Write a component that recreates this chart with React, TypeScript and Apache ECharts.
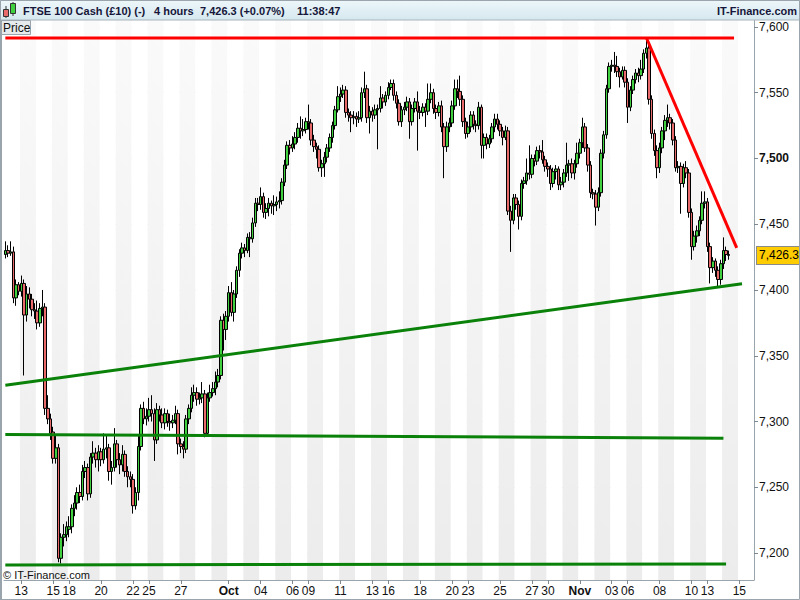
import React, { useEffect, useRef } from 'react';
import * as echarts from 'echarts';

// ---- DATA ----
const tradingDays = ['09-12','09-13','09-14','09-15','09-18','09-19','09-20','09-21','09-22','09-25','09-26','09-27','09-28','09-29',
  '10-02','10-03','10-04','10-05','10-06','10-09','10-10','10-11','10-12','10-13','10-16','10-17','10-18','10-19','10-20','10-23','10-24','10-25','10-26','10-27','10-30','10-31',
  '11-01','11-02','11-03','11-06','11-07','11-08','11-09','11-10','11-13','11-14','11-15'];
const barHours = ['00', '04', '08', '12', '16', '20'];
const labelledDays = ['09-13','09-15','09-18','09-20','09-22','09-25','09-27','10-02','10-04','10-06','10-09','10-11','10-13','10-16','10-18','10-20','10-23','10-25','10-27','10-30','11-01','11-03','11-06','11-08','11-10','11-13','11-15'];
const monthLabels: Record<string, string> = { '10-02': 'Oct', '11-01': 'Nov' };

// [open, close, low, high] per 4-hour bar
const candles: number[][] = [
  [7427,7430,7424,7437],[7430,7428,7425,7434],[7428,7429,7426,7437],[7429,7394,7390,7433],[7394,7404,7388,7408],[7404,7399,7396,7406],
  [7399,7405,7395,7411],[7405,7381,7335,7408],[7381,7397,7376,7403],[7397,7393,7386,7402],[7393,7385,7380,7397],[7385,7384,7378,7390],
  [7384,7375,7370,7392],[7375,7386,7372,7390],[7386,7387,7380,7400],[7387,7310,7305,7390],[7310,7302,7298,7320],[7302,7291,7286,7306],
  [7292,7272,7268,7296],[7272,7280,7268,7290],[7280,7196,7193,7283],[7196,7212,7192,7215],[7212,7214,7205,7222],[7214,7220,7209,7224],
  [7218,7220,7212,7228],[7220,7234,7215,7237],[7234,7238,7228,7244],[7238,7246,7233,7250],[7246,7243,7238,7252],[7243,7262,7240,7267],
  [7262,7265,7257,7270],[7265,7245,7240,7268],[7245,7273,7242,7276],[7273,7276,7268,7285],[7276,7271,7265,7280],[7271,7277,7262,7282],
  [7277,7271,7266,7280],[7271,7279,7268,7291],[7279,7280,7272,7290],[7280,7262,7255,7283],[7262,7265,7252,7270],[7265,7283,7262,7295],
  [7283,7271,7265,7286],[7271,7267,7260,7276],[7267,7275,7262,7282],[7275,7262,7258,7278],[7262,7258,7250,7266],[7258,7256,7250,7262],
  [7256,7236,7230,7260],[7236,7246,7233,7250],[7246,7281,7240,7290],[7281,7310,7278,7313],[7310,7302,7298,7315],[7302,7304,7297,7310],
  [7304,7309,7300,7318],[7309,7306,7300,7320],[7306,7286,7270,7310],[7286,7309,7283,7314],[7309,7305,7300,7312],[7305,7299,7295,7310],
  [7299,7306,7294,7310],[7306,7300,7296,7309],[7300,7299,7293,7306],[7299,7301,7295,7305],[7301,7306,7298,7312],[7306,7283,7275,7309],
  [7283,7281,7276,7287],[7281,7279,7272,7285],[7279,7302,7276,7305],[7302,7310,7298,7313],[7310,7320,7307,7326],[7320,7322,7315,7328],
  [7322,7317,7312,7326],[7317,7318,7313,7322],[7318,7321,7314,7330],[7321,7291,7288,7324],[7291,7318,7289,7322],[7318,7322,7315,7328],
  [7322,7325,7319,7330],[7325,7330,7320,7338],[7330,7335,7326,7340],[7335,7377,7332,7380],[7377,7370,7354,7382],[7370,7380,7362,7384],
  [7380,7398,7376,7403],[7398,7383,7380,7406],[7383,7397,7376,7400],[7397,7415,7394,7418],[7415,7428,7410,7431],[7428,7432,7424,7436],
  [7432,7430,7425,7435],[7430,7440,7428,7443],[7440,7439,7425,7444],[7439,7451,7436,7455],[7451,7466,7448,7470],[7466,7465,7460,7470],
  [7465,7471,7461,7478],[7471,7459,7455,7474],[7459,7462,7454,7466],[7462,7466,7456,7470],[7466,7464,7458,7468],[7464,7465,7457,7472],
  [7465,7467,7460,7471],[7467,7468,7462,7475],[7468,7482,7465,7485],[7482,7495,7479,7499],[7495,7510,7492,7513],[7510,7508,7503,7514],
  [7508,7511,7505,7517],[7511,7516,7507,7520],[7516,7523,7512,7527],[7523,7521,7515,7532],[7521,7522,7517,7530],[7522,7528,7519,7531],
  [7528,7527,7522,7541],[7527,7514,7510,7530],[7514,7509,7505,7518],[7509,7507,7500,7512],[7507,7493,7490,7510],[7493,7496,7486,7499],
  [7496,7501,7486,7505],[7501,7508,7497,7511],[7508,7516,7505,7519],[7516,7525,7512,7528],[7525,7537,7522,7540],[7537,7547,7535,7555],
  [7547,7549,7543,7554],[7549,7552,7546,7556],[7552,7535,7531,7555],[7535,7533,7528,7538],[7533,7531,7520,7536],[7531,7532,7526,7536],
  [7532,7530,7524,7535],[7530,7531,7527,7536],[7531,7550,7528,7554],[7550,7553,7546,7566],[7553,7531,7527,7556],[7531,7536,7519,7540],
  [7536,7533,7528,7539],[7533,7537,7530,7541],[7537,7538,7507,7541],[7538,7546,7535,7555],[7546,7543,7538,7549],[7543,7548,7540,7551],
  [7548,7554,7545,7558],[7554,7557,7552,7560],[7557,7548,7544,7560],[7548,7542,7538,7551],[7542,7528,7525,7545],[7528,7537,7524,7540],
  [7537,7539,7533,7543],[7539,7543,7536,7547],[7543,7528,7515,7546],[7528,7538,7525,7541],[7538,7543,7535,7546],[7543,7536,7506,7551],
  [7536,7535,7530,7540],[7535,7539,7532,7542],[7539,7536,7524,7542],[7536,7545,7533,7557],[7545,7550,7542,7557],[7550,7538,7534,7553],
  [7538,7535,7530,7541],[7535,7540,7532,7543],[7540,7524,7520,7544],[7524,7509,7485,7527],[7509,7524,7505,7528],[7524,7527,7520,7531],
  [7527,7540,7524,7544],[7540,7553,7537,7560],[7553,7551,7546,7560],[7551,7545,7540,7563],[7545,7528,7524,7548],[7528,7519,7515,7531],
  [7519,7524,7516,7528],[7524,7533,7520,7536],[7533,7526,7522,7536],[7526,7525,7520,7529],[7525,7539,7522,7543],[7539,7510,7500,7541],
  [7510,7516,7500,7519],[7516,7511,7507,7519],[7511,7515,7508,7518],[7515,7524,7512,7527],[7524,7530,7520,7534],[7530,7526,7522,7534],
  [7526,7521,7517,7529],[7521,7516,7510,7524],[7516,7521,7514,7525],[7521,7460,7457,7524],[7460,7453,7429,7464],[7453,7470,7450,7473],
  [7470,7465,7461,7473],[7465,7456,7446,7468],[7456,7481,7453,7484],[7481,7483,7477,7486],[7483,7489,7480,7500],[7489,7488,7484,7510],
  [7488,7500,7485,7503],[7500,7498,7494,7503],[7498,7506,7495,7509],[7506,7505,7500,7510],[7505,7499,7496,7514],[7499,7494,7490,7502],
  [7494,7492,7486,7497],[7492,7481,7476,7495],[7481,7490,7478,7493],[7490,7492,7484,7495],[7492,7480,7476,7494],[7480,7482,7476,7486],
  [7482,7489,7478,7492],[7489,7495,7486,7512],[7495,7496,7483,7499],[7496,7489,7485,7500],[7489,7496,7484,7499],[7496,7504,7493,7512],
  [7504,7512,7500,7515],[7512,7524,7508,7531],[7524,7508,7505,7527],[7508,7495,7490,7511],[7495,7474,7470,7498],[7474,7473,7469,7477],
  [7473,7463,7449,7476],[7463,7474,7460,7478],[7474,7504,7471,7507],[7504,7518,7500,7521],[7518,7553,7515,7556],[7553,7570,7550,7573],
  [7570,7571,7566,7575],[7571,7570,7565,7581],[7570,7566,7562,7578],[7566,7562,7554,7569],[7562,7567,7560,7570],[7567,7558,7554,7570],
  [7558,7539,7527,7561],[7539,7552,7536,7555],[7552,7560,7549,7563],[7560,7565,7557,7568],[7565,7563,7558,7569],[7563,7568,7560,7575],
  [7568,7580,7565,7583],[7580,7584,7576,7591],[7584,7545,7541,7587],[7545,7519,7515,7548],[7519,7506,7502,7522],[7506,7493,7485,7510],
  [7493,7508,7489,7512],[7508,7521,7504,7524],[7521,7529,7514,7533],[7529,7531,7524,7541],[7531,7527,7522,7534],[7527,7514,7510,7530],
  [7514,7493,7490,7517],[7493,7494,7489,7498],[7494,7481,7458,7497],[7481,7493,7478,7496],[7493,7489,7485,7498],[7489,7459,7455,7492],
  [7459,7433,7423,7462],[7433,7441,7430,7445],[7441,7445,7436,7449],[7445,7453,7441,7456],[7453,7466,7450,7475],[7466,7467,7462,7475],
  [7467,7433,7429,7470],[7433,7417,7405,7436],[7417,7422,7413,7425],[7422,7415,7410,7424],[7415,7408,7403,7418],[7408,7420,7404,7423],
  [7420,7430,7416,7440],[7430,7427,7422,7433],[7427,7426.3,7423,7430]
];

// trend lines: [bar index, price]
const resistanceTop = [[0, 7591.6], [274, 7591.6]];
const resistanceFall = [[241, 7592], [275, 7432]];
const supportRising = [[0, 7327.6], [277, 7404.7]];
const supportMid = [[0, 7290.2], [270, 7287.3]];
const supportLow = [[0, 7191], [271, 7191.7]];

const lastPrice = 7426.3;
const headerTitle = 'FTSE 100 Cash (£10) (-)';
const headerPeriod = '4 hours';
const headerQuote = '7,426.3 (+0.07%)';
const headerTime = '11:38:47';
const brand = 'IT-Finance.com';

const FONT = '"Liberation Sans", Arial, sans-serif';

export default function App() {
  const ref = useRef<HTMLDivElement>(null);
  useEffect(() => {
    if (!ref.current) return;
    const chart = echarts.init(ref.current, undefined, { renderer: 'svg' });
    const categories: string[] = [];
    tradingDays.forEach((d) => barHours.forEach((h) => categories.push(d + ' ' + h)));
    const labelled = new Set(labelledDays);
    const isLabelled = (index: number, value: string) => index % 6 === 0 && labelled.has(String(value).slice(0, 5));

    const green = '#0a820a';
    const lineSeries = (data: number[][], color: string) => ({
      type: 'line',
      data,
      symbol: 'none',
      silent: true,
      z: 5,
      lineStyle: { color, width: 3 },
    });
    const headFont = 'bold 11px ' + FONT;

    chart.setOption({
      animation: false,
      textStyle: { fontFamily: FONT },
      grid: { left: 4, right: 46, top: 20, bottom: 20, containLabel: false },
      xAxis: {
        type: 'category',
        data: categories,
        boundaryGap: true,
        axisLine: { show: true, lineStyle: { color: '#9aa4ad', width: 1 } },
        axisTick: { show: true, interval: isLabelled, alignWithLabel: true, length: 4, lineStyle: { color: '#7d8890' } },
        axisLabel: {
          interval: isLabelled,
          color: '#111',
          fontSize: 12,
          fontFamily: FONT,
          margin: 5,
          formatter: (v: string) => {
            const d = v.slice(0, 5);
            if (monthLabels[d]) return '{m|' + monthLabels[d] + '}';
            return d.slice(3);
          },
          rich: { m: { fontWeight: 'bold', fontSize: 12, fontFamily: FONT, color: '#111' } },
        },
        splitLine: { show: false },
        splitArea: {
          show: true,
          interval: (index: number) => index % 6 === 0,
          areaStyle: {
            color: [
              '#ffffff',
              new echarts.graphic.LinearGradient(0, 0, 0, 1, [
                { offset: 0, color: '#fafafa' },
                { offset: 1, color: '#ececec' },
              ]),
            ],
          },
        },
      },
      yAxis: {
        type: 'value',
        position: 'right',
        min: 7179.5,
        max: 7605.3,
        splitNumber: 8,
        scale: true,
        axisLine: { show: true, lineStyle: { color: '#9aa4ad' } },
        axisTick: { show: true, length: 4, lineStyle: { color: '#7d8890' } },
        axisLabel: {
          showMinLabel: false,
          showMaxLabel: false,
          margin: 5,
          color: '#111',
          fontSize: 12,
          fontFamily: FONT,
          formatter: (v: number) => {
            if (Math.abs(v % 50) > 0.001) return '';
            const s = v.toLocaleString('en-US');
            return v === 7500 ? '{b|' + s + '}' : s;
          },
          rich: { b: { fontWeight: 'bold', fontSize: 12, fontFamily: FONT, color: '#111' } },
        },
        splitLine: { show: true, lineStyle: { color: '#e2e2e2', width: 1 } },
      },
      series: [
        {
          type: 'candlestick',
          data: candles,
          barWidth: 3,
          z: 3,
          itemStyle: {
            color: '#3fcf3f',
            color0: '#e86a6a',
            borderColor: '#000',
            borderColor0: '#000',
            borderWidth: 1,
          },
          markLine: {
            silent: true,
            symbol: 'none',
            z: 10,
            lineStyle: { color: 'rgba(0,0,0,0)', width: 1, type: 'solid' },
            label: {
              show: true,
              position: 'end',
              distance: 3,
              formatter: lastPrice.toLocaleString('en-US', { minimumFractionDigits: 1 }),
              backgroundColor: '#ffcc00',
              borderColor: '#8a8a8a',
              borderWidth: 1,
              padding: [3, 2, 2, 2],
              color: '#000',
              fontSize: 12,
              fontFamily: FONT,
            },
            data: [{ yAxis: lastPrice }],
          },
        },
        lineSeries(resistanceTop, '#ff0000'),
        lineSeries(resistanceFall, '#ff0000'),
        lineSeries(supportRising, green),
        lineSeries(supportMid, green),
        lineSeries(supportLow, green),
      ],
      graphic: [
        {
          type: 'rect',
          shape: { x: 0, y: 0, width: 800, height: 20 },
          style: {
            fill: new echarts.graphic.LinearGradient(0, 0, 0, 1, [
              { offset: 0, color: '#eef7fa' },
              { offset: 1, color: '#d5e8ef' },
            ]),
            stroke: '#a9b4bc',
            lineWidth: 1,
          },
          z: 10,
        },
        // header icon
        { type: 'line', shape: { x1: 6, y1: 6, x2: 6, y2: 18 }, style: { stroke: '#333', lineWidth: 1 }, z: 11 },
        { type: 'rect', shape: { x: 3.5, y: 9.5, width: 5, height: 7 }, style: { fill: '#e86a6a', stroke: '#333', lineWidth: 1 }, z: 12 },
        { type: 'line', shape: { x1: 13, y1: 2, x2: 13, y2: 16 }, style: { stroke: '#333', lineWidth: 1 }, z: 11 },
        { type: 'rect', shape: { x: 10.5, y: 3.5, width: 5, height: 10 }, style: { fill: '#3fcf3f', stroke: '#333', lineWidth: 1 }, z: 12 },
        { type: 'text', x: 23, y: 11, style: { text: headerTitle, fill: '#16163a', font: headFont, verticalAlign: 'middle' }, z: 12 },
        { type: 'text', x: 154, y: 11, style: { text: headerPeriod, fill: '#16163a', font: headFont, verticalAlign: 'middle' }, z: 12 },
        { type: 'text', x: 200, y: 11, style: { text: headerQuote, fill: '#16163a', font: headFont, verticalAlign: 'middle' }, z: 12 },
        { type: 'text', x: 297, y: 11, style: { text: headerTime, fill: '#16163a', font: headFont, verticalAlign: 'middle' }, z: 12 },
        { type: 'text', x: 797, y: 11, style: { text: brand, fill: '#16163a', font: headFont, verticalAlign: 'middle', align: 'right' }, z: 12 },
        // Price tag
        { type: 'rect', shape: { x: 1.5, y: 20.5, width: 29, height: 14 }, style: { fill: '#e6eaed', stroke: '#9aa4ad', lineWidth: 1 }, z: 12 },
        { type: 'text', x: 3, y: 28, style: { text: 'Price', fill: '#111', font: '12px ' + FONT, verticalAlign: 'middle' }, z: 13 },
        // copyright
        { type: 'text', x: 3, y: 575, style: { text: '© ' + brand, fill: '#111', font: '11px ' + FONT, verticalAlign: 'middle' }, z: 12 },
        // frame
        { type: 'rect', shape: { x: 0.5, y: 0.5, width: 799, height: 599 }, style: { fill: 'none', stroke: '#9aa4ad', lineWidth: 1 }, z: 20 },
        { type: 'line', shape: { x1: 1, y1: 20, x2: 1, y2: 600 }, style: { stroke: '#9aa4ad', lineWidth: 2 }, z: 20 },
      ],
    });
    return () => chart.dispose();
  }, []);
  return <div ref={ref} style={{ position: 'fixed', left: 0, top: 0, width: 800, height: 600, background: '#fff' }} />;
}
